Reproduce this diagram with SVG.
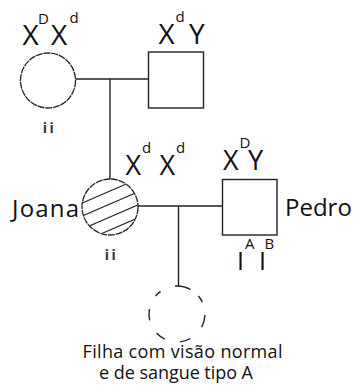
<svg xmlns="http://www.w3.org/2000/svg" width="358" height="385" viewBox="0 0 358 385">
<style>
text{font-family:"Open Sans","Noto Sans","Liberation Sans",sans-serif;fill:#111}
.big{font-size:28px}
.mid{font-size:27px}
.sup{font-size:15px}
.name{font-size:24px}
.small{font-size:14px;fill:#333;font-weight:bold;letter-spacing:2.5px}
.cap{font-size:18px}
.ln{stroke:#222;stroke-width:1.4;fill:none}
.fine{stroke:#222;stroke-width:1.3;fill:#fff;stroke-dasharray:7 0.8}
.sq{stroke:#222;stroke-width:1.4;fill:#fff}
</style>
<defs>
<clipPath id="jclip"><circle cx="110" cy="207" r="27.5"/></clipPath>
</defs>
<rect width="358" height="385" fill="#fff"/>
<g id="connectors">
<line class="ln" x1="75.5" y1="79" x2="148" y2="79"/>
<line class="ln" x1="110" y1="79" x2="110" y2="179"/>
<line class="ln" x1="138" y1="206" x2="222" y2="206"/>
<line class="ln" x1="178.5" y1="206" x2="178.5" y2="286"/>
</g>
<g id="mae">
<circle class="fine" cx="48" cy="80.5" r="27.5"/>
<text class="big" x="22.5" y="45">X</text>
<text class="sup" x="38" y="24">D</text>
<text class="big" x="51" y="45">X</text>
<text class="sup" x="69.5" y="23">d</text>
<text class="small" x="49.5" y="133" text-anchor="middle">ii</text>
</g>
<g id="pai">
<rect class="sq" x="148.5" y="52" width="55" height="56"/>
<text class="big" x="158.5" y="43.5">X</text>
<text class="sup" x="175.5" y="21.7">d</text>
<text class="big" x="189" y="43.5">Y</text>
</g>
<g id="joana">
<circle class="fine" cx="110" cy="207" r="28"/>
<g clip-path="url(#jclip)" stroke="#222" stroke-width="1.1">
<line x1="70" y1="208.2" x2="150" y2="173.8"/>
<line x1="70" y1="221.2" x2="150" y2="186.8"/>
<line x1="70" y1="234.2" x2="150" y2="199.8"/>
<line x1="70" y1="247.2" x2="150" y2="212.8"/>
</g>
<text class="name" x="12" y="217" textLength="67" lengthAdjust="spacing">Joana</text>
<text class="mid" x="125.5" y="175">X</text>
<text class="sup" x="142" y="153">d</text>
<text class="mid" x="159.5" y="175">X</text>
<text class="sup" x="176" y="153">d</text>
<text class="small" x="111.5" y="260" text-anchor="middle">ii</text>
</g>
<g id="pedro">
<rect class="sq" x="222.5" y="179.5" width="54.5" height="55.5"/>
<text class="mid" x="223" y="170">X</text>
<text class="sup" x="239.5" y="148">D</text>
<text class="mid" x="248" y="170">Y</text>
<text class="name" x="285" y="216">Pedro</text>
<text style="font-size:25px" x="240.5" y="270" text-anchor="middle">I</text>
<text class="sup" x="245" y="249">A</text>
<text style="font-size:25px" x="262.5" y="270" text-anchor="middle">I</text>
<text class="sup" x="264.5" y="249">B</text>
</g>
<g id="filha">
<path class="ln" d="M175.05 286.07A28 28 0 0 1 190.57 289.51M198.45 296A28 28 0 0 1 202.38 302.17M204.98 314.98A28 28 0 0 1 201.72 327.15M190.57 338.49A28 28 0 0 1 179.93 341.85M164.73 339.17A28 28 0 0 1 156.52 333.1M149.72 320.3A28 28 0 0 1 149.43 309.14M155.55 296A28 28 0 0 1 160.54 291.35"/>
<text class="cap" x="82.5" y="358" textLength="200" lengthAdjust="spacing">Filha com visão normal</text>
<text class="cap" x="99" y="379" textLength="154" lengthAdjust="spacing">e de sangue tipo A</text>
</g>
</svg>
